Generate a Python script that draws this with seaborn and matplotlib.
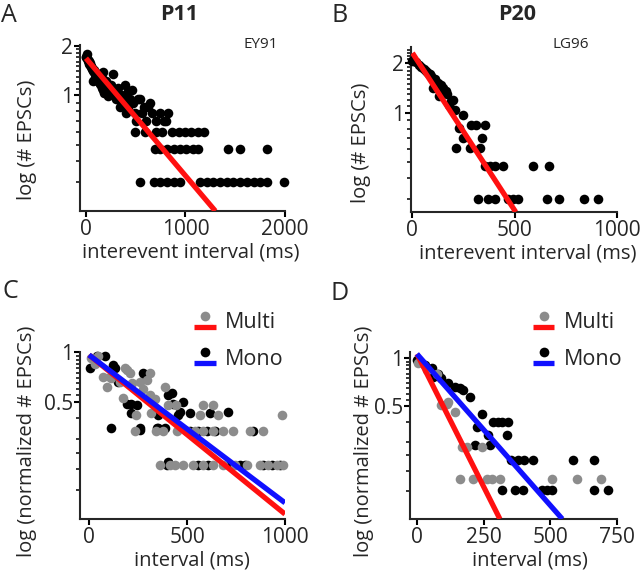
import numpy as np
import pandas as pd
import matplotlib
matplotlib.use("Agg")
import matplotlib.pyplot as plt
import seaborn as sns
from matplotlib.legend_handler import HandlerBase
from matplotlib.lines import Line2D
from matplotlib.ticker import FixedLocator, FixedFormatter, NullFormatter

# ---------------- data ----------------
# Panel A (P11, EY91): log10(# EPSCs) vs interevent interval (ms)
A_band_x = [0, 5, 10, 15, 20, 25, 30, 35, 40, 45, 50, 55, 60, 65, 70, 75, 80, 85, 90, 95,
            100, 105, 110, 115, 120, 125, 130, 135, 140, 145, 150, 155, 160, 165, 170, 175,
            180, 185, 190, 195, 200, 210, 220, 230, 240, 250, 260, 270, 280, 290, 300,
            320, 340, 350, 360, 380, 390, 400, 410, 420, 440, 460, 470, 490, 500, 520,
            540, 560, 580, 600, 620, 640, 660, 700, 740, 780, 800, 825]
A_band_y = [1.70, 1.72, 1.77, 1.68, 1.65, 1.62, 1.61, 1.56, 1.58, 1.53, 1.50, 1.49, 1.46, 1.45,
            1.23, 1.41, 1.43, 1.38, 1.28, 1.34, 1.36, 1.30, 1.32, 1.28, 1.30, 1.23, 1.26, 1.20,
            1.34, 1.18, 1.20, 1.15, 1.28, 1.11, 1.38, 1.08, 1.18, 1.04, 1.15, 1.11, 1.23,
            1.08, 0.99, 1.11, 1.04, 1.15, 1.08, 1.34, 1.00, 1.06, 0.95,
            1.11, 0.85, 1.00, 0.90, 0.95, 1.16, 0.78, 1.04, 0.85, 0.95, 1.08, 0.90, 0.78, 0.70, 0.95,
            0.95, 0.78, 0.85, 0.70, 0.85, 0.90, 0.78, 0.70, 0.78, 0.70, 0.70, 0.78]
A_row4_x = [490, 590, 700, 760, 860, 930, 995, 1060, 1130, 1190]           # log10(4)
A_row3_x = [690, 740, 810, 880, 945, 1010, 1080, 1130, 1430, 1550, 1815]   # log10(3)
A_row2_x = [545, 680, 745, 810, 880, 945, 1150, 1215, 1280, 1350, 1420,
            1480, 1550, 1620, 1690, 1750, 1815, 1985]                        # log10(2)
A_fit_x = [0, 1300]
A_fit_y = [1.68, 0.20]

# Panel B (P20, LG96)
B_band_x = [0, 5, 18, 30, 43, 55, 65, 75, 85, 92, 100, 110, 124, 132, 140, 149, 165, 170,
            181, 190, 198, 206, 214, 230, 247, 247, 279, 288, 312, 328, 340, 353]
B_band_y = [2.06, 2.08, 2.02, 1.95, 1.88, 1.85, 1.78, 1.75, 1.72, 1.67, 1.42, 1.60, 1.52, 1.26,
            1.48, 1.42, 1.35, 1.30, 1.12, 1.18, 1.20, 1.04, 0.61, 0.81, 0.97, 0.70, 0.61, 0.84,
            0.84, 0.61, 0.70, 0.84]
B_row3_x = [353, 377, 402, 443, 590, 667]                                  # log10(3)
B_row2_x = [320, 369, 402, 467, 491, 516, 660, 717, 838, 905]              # log10(2)
B_fit_x = [0, 505]
B_fit_y = [2.30, 0.25]

# Panel C (P11, normalized)
C_multi_x = [12, 46, 30, 71, 90, 114, 107, 158, 173, 182, 192, 207, 218, 241, 233, 258, 277,
             294, 311, 309, 318, 343, 337, 360, 379, 388, 403, 413, 437, 445, 447, 481, 498,
             532, 540, 566, 583, 583, 583, 634, 634, 634, 659, 685, 685, 736, 745, 804, 821,
             872, 889, 915, 957, 983, 991]
C_multi_y = [0.92, 0.94, 0.85, 0.71, 0.62, 0.70, 0.71, 0.66, 0.53, 0.80, 0.78, 0.745, 0.65,
             0.42, 0.335, 0.66, 0.60, 0.68, 0.75, 0.55, 0.43, 0.335, 0.52, 0.21, 0.335, 0.62,
             0.48, 0.21, 0.21, 0.48, 0.335, 0.21, 0.335, 0.21, 0.335, 0.42, 0.48, 0.335, 0.21,
             0.48, 0.335, 0.21, 0.42, 0.335, 0.21, 0.335, 0.21, 0.21, 0.335, 0.21, 0.335, 0.21,
             0.21, 0.42, 0.21]
C_mono_x = [4, 39, 80, 124, 131, 148, 114, 192, 216, 216, 243, 258, 260, 277, 284, 345, 352,
            352, 386, 396, 403, 403, 422, 428, 454, 464, 481, 515, 515, 557, 557, 600, 608,
            617, 642, 710, 719, 770, 796, 838, 889, 932, 974]
C_mono_y = [0.80, 0.94, 0.94, 0.84, 0.80, 0.66, 0.35, 0.49, 0.49, 0.43, 0.48, 0.34, 0.35,
            0.75, 0.71, 0.35, 0.42, 0.35, 0.35, 0.21, 0.55, 0.22, 0.57, 0.49, 0.42, 0.44, 0.50,
            0.43, 0.335, 0.335, 0.21, 0.335, 0.21, 0.43, 0.335, 0.44, 0.21, 0.21, 0.21, 0.335,
            0.21, 0.21, 0.21]
C_multi_fit_x = [0, 1000]
C_multi_fit_y = [0.96, 0.107]
C_mono_fit_x = [0, 1000]
C_mono_fit_y = [0.96, 0.125]

# Panel D (P20, normalized)
D_multi_x = [5, 36, 74, 92, 111, 117, 142, 168, 187, 243, 161, 211, 261, 280, 311, 506, 600, 691]
D_multi_y = [0.93, 0.84, 0.80, 0.51, 0.52, 0.53, 0.46, 0.28, 0.28, 0.28,
             0.178, 0.178, 0.178, 0.178, 0.178, 0.178, 0.178, 0.178]
D_mono_x = [0, 11, 30, 55, 61, 80, 92, 117, 142, 161, 174, 199, 243, 286, 303, 319, 341, 224,
            268, 336, 218, 274, 353, 378, 403, 434, 584, 665, 318, 368, 399, 468, 487, 506,
            662, 718]
D_mono_y = [0.97, 0.95, 0.905, 0.863, 0.765, 0.80, 0.75, 0.70, 0.66, 0.65, 0.63, 0.575, 0.45,
            0.40, 0.40, 0.40, 0.40, 0.375, 0.333, 0.333, 0.29, 0.29, 0.233, 0.233, 0.233, 0.233,
            0.233, 0.233, 0.151, 0.151, 0.151, 0.151, 0.151, 0.151, 0.151, 0.151]
D_multi_fit_x = [0, 311]
D_multi_fit_y = [1.06, 0.10]
D_mono_fit_x = [0, 545]
D_mono_fit_y = [1.06, 0.10]

# ---------------- style ----------------
sns.set_theme(style="ticks")
plt.rcParams['font.family'] = ['Open Sans', 'DejaVu Sans']
plt.rcParams['axes.linewidth'] = 1.5
plt.rcParams['xtick.major.width'] = 1.5
plt.rcParams['ytick.major.width'] = 1.5
plt.rcParams['ytick.minor.width'] = 1.1

RED = "#ff1010"
BLUE = "#1010ff"
GRAY = "#8c8c8c"
BLACK = "#000000"
FS = 15
LFS = 14.5
DOT = 48
LW = 3.8

fig = plt.figure(figsize=(6.4, 5.71), dpi=100)


def px_axes(l, t, r, b):
    return fig.add_axes([l / 640, 1 - b / 571, (r - l) / 640, (b - t) / 571])


def setup(ax, xlim, ylim, xticks, ymaj, ymaj_lbl, ymin, xlabel, ylabel, xl_pos, yl_pos):
    ax.set_yscale('log')
    ax.set_xlim(xlim)
    ax.set_ylim(ylim)
    ax.set_xticks(xticks)
    ax.set_xticklabels([str(t) for t in xticks])
    ax.yaxis.set_major_locator(FixedLocator(ymaj))
    ax.yaxis.set_major_formatter(FixedFormatter(ymaj_lbl))
    ax.yaxis.set_minor_locator(FixedLocator(ymin))
    ax.yaxis.set_minor_formatter(NullFormatter())
    ax.tick_params(axis='x', which='major', length=4, pad=2, labelsize=FS, color='black')
    ax.tick_params(axis='y', which='major', length=4, pad=1, labelsize=FS, color='black')
    ax.tick_params(axis='y', which='minor', left=True, length=3, width=1.1, color='black')
    ax.xaxis.set_minor_locator(FixedLocator([]))
    for s in ['top', 'right']:
        ax.spines[s].set_visible(False)
    ax.set_xlabel(xlabel, fontsize=LFS)
    ax.set_ylabel(ylabel, fontsize=LFS)
    ax.xaxis.set_label_coords(*xl_pos)
    ax.yaxis.set_label_coords(*yl_pos)


def scat(ax, x, y, color, z=3):
    df = pd.DataFrame({'x': x, 'y': y})
    sns.scatterplot(data=df, x='x', y='y', color=color, s=DOT, linewidth=0, ax=ax,
                    zorder=z, clip_on=False, legend=False)


def fit(ax, x, y, color, z=5):
    df = pd.DataFrame({'x': x, 'y': y})
    sns.lineplot(data=df, x='x', y='y', color=color, lw=LW, ax=ax, zorder=z,
                 solid_capstyle='butt', legend=False)


# ---------- Panel A ----------
axA = px_axes(80, 45, 285, 211)
scat(axA, A_band_x, A_band_y, BLACK)
scat(axA, A_row4_x, [np.log10(4)] * len(A_row4_x), BLACK)
scat(axA, A_row3_x, [np.log10(3)] * len(A_row3_x), BLACK)
scat(axA, A_row2_x, [np.log10(2)] * len(A_row2_x), BLACK)
fit(axA, A_fit_x, A_fit_y, RED)
minA = [0.3, 0.4, 0.5, 0.6, 0.7, 0.8, 0.9] + [1.1, 1.2, 1.3, 1.4, 1.5, 1.6, 1.7, 1.8, 1.9]
setup(axA, (-60, 2000), (0.2, 2.02), [0, 1000, 2000], [1, 2], ['1', '2'], minA,
      'interevent interval (ms)', 'log (# EPSCs)', (0.54, -0.19), (-0.21, 0.43))

# ---------- Panel B ----------
axB = px_axes(411, 47, 617, 212)
scat(axB, B_band_x, B_band_y, BLACK)
scat(axB, B_row3_x, [np.log10(3)] * len(B_row3_x), BLACK)
scat(axB, B_row2_x, [np.log10(2)] * len(B_row2_x), BLACK)
fit(axB, B_fit_x, B_fit_y, RED)
minB = [0.3, 0.4, 0.5, 0.6, 0.7, 0.8, 0.9] + [1.1, 1.2, 1.3, 1.4, 1.5, 1.6, 1.7, 1.8, 1.9,
                                              2.1, 2.2, 2.3, 2.4]
setup(axB, (-7, 1000), (0.25, 2.5), [0, 500, 1000], [1, 2], ['1', '2'], minB,
      'interevent interval (ms)', 'log (# EPSCs)', (0.566, -0.19), (-0.194, 0.42))

# ---------- legend handler ----------
class DotOverLine(HandlerBase):
    def __init__(self, dot_color, line_color):
        super().__init__()
        self.dc = dot_color
        self.lc = line_color

    def create_artists(self, legend, orig_handle, xdescent, ydescent, width, height,
                       fontsize, trans):
        x0, y0 = -xdescent, -ydescent
        yc = y0 + height / 2
        ln = Line2D([x0, x0 + width], [yc - 0.30 * fontsize] * 2, color=self.lc, lw=LW,
                    solid_capstyle='butt', transform=trans)
        dot = Line2D([x0 + width / 2], [yc + 0.22 * fontsize], marker='o', ms=7,
                     markeredgewidth=0, color=self.dc, ls='none', transform=trans)
        return [ln, dot]


def add_legend(ax, anchor):
    h1 = Line2D([], [], color=RED)
    h2 = Line2D([], [], color=BLUE)
    ax.legend([h1, h2], ['Multi', 'Mono'], loc='center left', bbox_to_anchor=anchor,
              frameon=False, fontsize=15.5, handlelength=1.0, handletextpad=0.45,
              labelspacing=0.7, borderpad=0, borderaxespad=0,
              handler_map={h1: DotOverLine(GRAY, RED), h2: DotOverLine(BLACK, BLUE)})


# ---------- Panel C ----------
axC = px_axes(80, 352, 285, 519)
scat(axC, C_mono_x, C_mono_y, BLACK)
scat(axC, C_multi_x, C_multi_y, GRAY, z=4)
fit(axC, C_multi_fit_x, C_multi_fit_y, RED, z=5)
fit(axC, C_mono_fit_x, C_mono_fit_y, BLUE, z=6)
minC = [0.15, 0.2, 0.25, 0.3, 0.4, 0.55, 0.6, 0.65, 0.7, 0.75, 0.8, 0.85, 0.9, 0.95]
setup(axC, (-46, 1000), (0.1, 1.0), [0, 500, 1000], [0.5, 1], ['0.5', '1'], minC,
      'interval (ms)', 'log (normalized # EPSCs)', (0.545, -0.19), (-0.21, 0.467))
add_legend(axC, (0.556, 1.066))

# ---------- Panel D ----------
axD = px_axes(410, 352, 617, 519)
scat(axD, D_mono_x, D_mono_y, BLACK)
scat(axD, D_multi_x, D_multi_y, GRAY, z=4)
fit(axD, D_multi_fit_x, D_multi_fit_y, RED, z=5)
fit(axD, D_mono_fit_x, D_mono_fit_y, BLUE, z=6)
minD = [0.15, 0.2, 0.25, 0.3, 0.4, 0.55, 0.6, 0.65, 0.7, 0.75, 0.8, 0.85, 0.9, 0.95]
setup(axD, (-26, 750), (0.1, 1.09), [0, 250, 500, 750], [0.5, 1], ['0.5', '1'], minD,
      'interval (ms)', 'log (normalized # EPSCs)', (0.58, -0.19), (-0.174, 0.467))
add_legend(axD, (0.594, 1.066))

# ---------- titles / annotations ----------
fig.text(179 / 640, 1 - 14 / 571, 'P11', ha='center', va='center', fontsize=15.5,
         fontweight='bold')
fig.text(517 / 640, 1 - 14 / 571, 'P20', ha='center', va='center', fontsize=15.5,
         fontweight='bold')
fig.text(261 / 640, 1 - 45 / 571, 'EY91', ha='center', va='center', fontsize=11)
fig.text(571 / 640, 1 - 44 / 571, 'LG96', ha='center', va='center', fontsize=11)
for lbl, x, y in [('A', 9, 15), ('B', 340, 16), ('C', 10, 292), ('D', 340, 293)]:
    fig.text(x / 640, 1 - y / 571, lbl, ha='center', va='center', fontsize=18)

fig.savefig('out.png', dpi=100)
